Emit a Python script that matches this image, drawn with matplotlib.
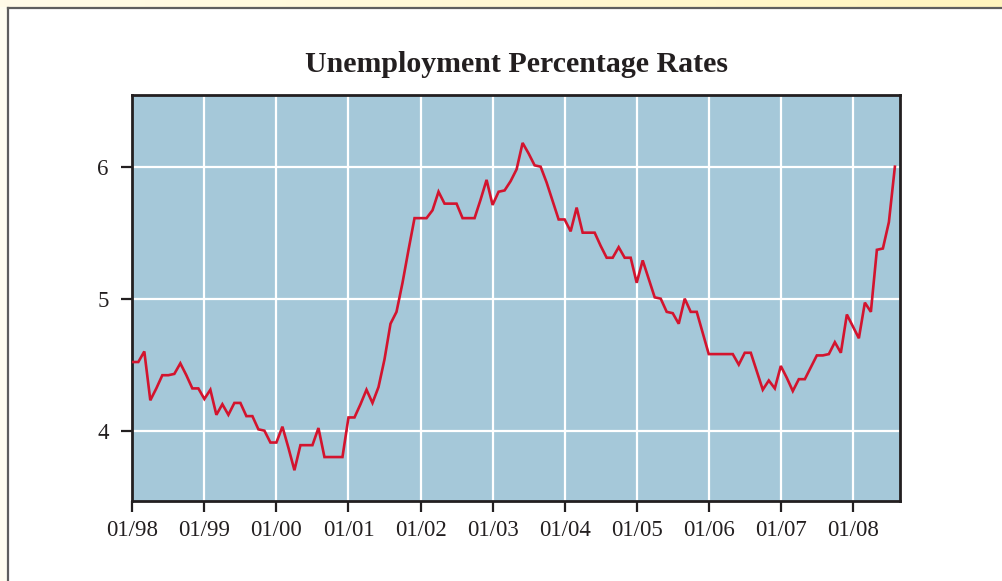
"""Unemployment percentage rates, monthly, Jan 1998 - Aug 2008."""
import numpy as np
import matplotlib
matplotlib.use("Agg")
import matplotlib.pyplot as plt
from matplotlib.patches import Rectangle
from matplotlib.lines import Line2D

# monthly rates, one list per year
rates_1998 = [4.52, 4.52, 4.60, 4.23, 4.32, 4.42, 4.42, 4.43, 4.51, 4.42, 4.32, 4.32]
rates_1999 = [4.24, 4.31, 4.12, 4.20, 4.12, 4.21, 4.21, 4.11, 4.11, 4.01, 4.00, 3.91]
rates_2000 = [3.91, 4.03, 3.87, 3.70, 3.89, 3.89, 3.89, 4.02, 3.80, 3.80, 3.80, 3.80]
rates_2001 = [4.10, 4.10, 4.20, 4.31, 4.21, 4.33, 4.54, 4.81, 4.90, 5.12, 5.37, 5.61]
rates_2002 = [5.61, 5.61, 5.67, 5.81, 5.72, 5.72, 5.72, 5.61, 5.61, 5.61, 5.75, 5.90]
rates_2003 = [5.71, 5.81, 5.82, 5.89, 5.98, 6.18, 6.10, 6.01, 6.00, 5.88, 5.74, 5.60]
rates_2004 = [5.60, 5.51, 5.69, 5.50, 5.50, 5.50, 5.40, 5.31, 5.31, 5.39, 5.31, 5.31]
rates_2005 = [5.12, 5.29, 5.15, 5.01, 5.00, 4.90, 4.89, 4.81, 5.00, 4.90, 4.90, 4.74]
rates_2006 = [4.58, 4.58, 4.58, 4.58, 4.58, 4.50, 4.59, 4.59, 4.45, 4.31, 4.38, 4.32]
rates_2007 = [4.49, 4.40, 4.30, 4.39, 4.39, 4.48, 4.57, 4.57, 4.58, 4.67, 4.59, 4.88]
rates_2008 = [4.79, 4.70, 4.97, 4.90, 5.37, 5.38, 5.58, 6.00]

year_labels = ["01/98", "01/99", "01/00", "01/01", "01/02", "01/03",
               "01/04", "01/05", "01/06", "01/07", "01/08"]
y_ticks = [4, 5, 6]

rates = np.array(rates_1998 + rates_1999 + rates_2000 + rates_2001 + rates_2002
                 + rates_2003 + rates_2004 + rates_2005 + rates_2006 + rates_2007
                 + rates_2008)
months = np.arange(len(rates))

W, H = 1002, 581
fig = plt.figure(figsize=(W / 100, H / 100), dpi=100, facecolor="white")


def fx(px):
    return px / W


def fy(py):
    return 1 - py / H


# page decoration: cream strip on the left, yellow band on top, grey box edge
fig.add_artist(Rectangle((0, 0), fx(7), 1, transform=fig.transFigure,
                         facecolor="#fffdf0", edgecolor="none", zorder=0))
band = fig.add_axes([0, fy(7), 1, 1 - fy(7)])
band.imshow(np.linspace(0, 1, 256)[None, :], aspect="auto", extent=(0, 1, 0, 1),
            cmap=matplotlib.colors.LinearSegmentedColormap.from_list(
                "band", ["#fffbe8", "#fff4bd"]))
band.set_axis_off()
fig.add_artist(Line2D([fx(7.5), 1], [fy(7.5), fy(7.5)], transform=fig.transFigure,
                      color="#5e5e5e", lw=1.6))
fig.add_artist(Line2D([fx(7.5), fx(7.5)], [0, fy(7.5)], transform=fig.transFigure,
                      color="#5e5e5e", lw=1.6))

ax = fig.add_axes([fx(132.3), fy(501), fx(900.3) - fx(132.3), fy(95) - fy(501)])
ax.set_facecolor("#a5c8d9")
ax.plot(months, rates, color="#d3142e", lw=1.9, solid_joinstyle="miter", zorder=3)

ax.set_xlim(0, 127.9)
ax.set_ylim(3.467, 6.543)
ax.set_xticks(np.arange(0, 121, 12))
ax.set_xticklabels(year_labels)
ax.set_yticks(y_ticks)
ax.grid(True, color="white", lw=1.6)
ax.set_axisbelow(True)

for side in ax.spines.values():
    side.set_color("#231f20")
    side.set_linewidth(2.0)

serif = ["Liberation Serif", "DejaVu Serif"]
ax.tick_params(axis="both", direction="out", length=8, width=1.6, color="#231f20",
               labelsize=16.5, labelcolor="#231f20")
ax.tick_params(axis="x", pad=6)
ax.tick_params(axis="y", pad=9)
for lab in ax.get_xticklabels() + ax.get_yticklabels():
    lab.set_family(serif)

fig.text((fx(132.3) + fx(900.3)) / 2, fy(62), "Unemployment Percentage Rates",
         ha="center", va="center_baseline", fontsize=21.5, fontweight="bold",
         family=serif, color="#231f20")

fig.savefig("out.png", dpi=100)
